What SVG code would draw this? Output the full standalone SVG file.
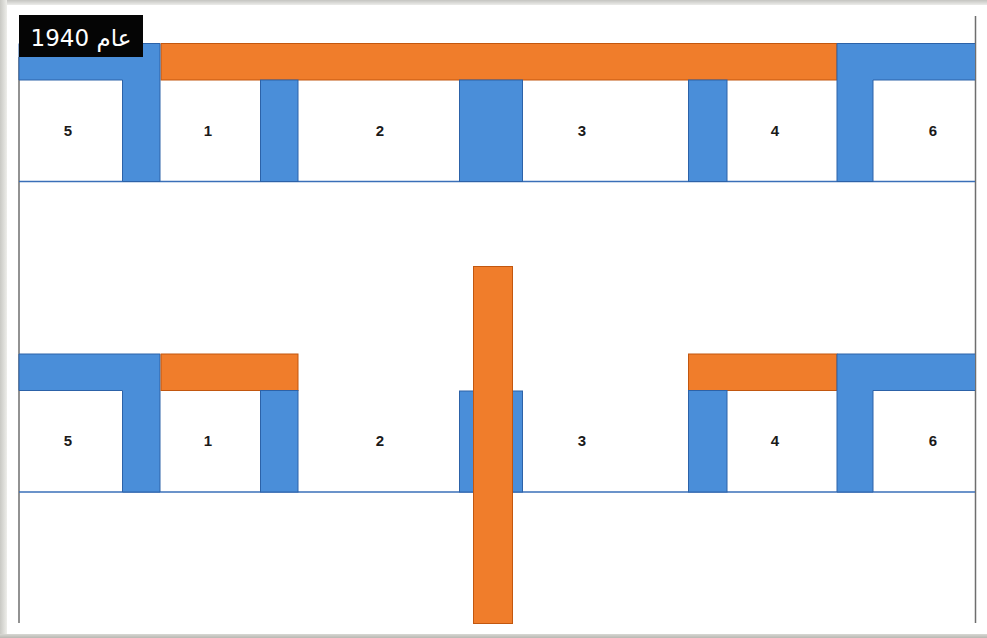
<svg xmlns="http://www.w3.org/2000/svg" width="987" height="638" viewBox="0 0 987 638">
<defs>
<linearGradient id="shL" x1="0" x2="1" y1="0" y2="0"><stop offset="0" stop-color="#c9c9c4"/><stop offset="1" stop-color="#eeeeea"/></linearGradient>
<linearGradient id="shT" x1="0" x2="0" y1="0" y2="1"><stop offset="0" stop-color="#c4c4c0"/><stop offset="1" stop-color="#ececea"/></linearGradient>
<linearGradient id="shB" x1="0" x2="0" y1="0" y2="1"><stop offset="0" stop-color="#d8d8d4"/><stop offset="1" stop-color="#b8b8b2"/></linearGradient>
</defs>
<style>
.b{fill:#4a8ed9;stroke:#2c62a8;stroke-width:1}
.o{fill:#f07d2b;stroke:#c2570f;stroke-width:1}
.base{stroke:#3a6fb8;stroke-width:1.5}
.edge{stroke:#6e6e6e;stroke-width:1.5}
.n{font-family:"Liberation Sans",Arial,sans-serif;font-size:15px;font-weight:bold;fill:#1a1a1a;text-anchor:middle}
</style>
<rect width="987" height="638" fill="#ffffff"/>
<rect x="0" y="0" width="987" height="5" fill="url(#shT)"/>
<rect x="0" y="0" width="7" height="638" fill="url(#shL)"/>
<rect x="0" y="634" width="987" height="4" fill="url(#shB)"/>
<line class="edge" x1="19" y1="57" x2="19" y2="623"/>
<line class="edge" x1="975.5" y1="16" x2="975.5" y2="623"/>

<g id="top">
<line class="base" x1="19" y1="181.5" x2="975" y2="181.5"/>
<rect class="o" x="161" y="43.5" width="676" height="36.5"/>
<path class="b" d="M19,43.5 H160 V181.5 H122.5 V80 H19 Z"/>
<rect class="b" x="260.5" y="80" width="37.5" height="101.5"/>
<rect class="b" x="459.5" y="80" width="63" height="101.5"/>
<rect class="b" x="688.5" y="80" width="38.5" height="101.5"/>
<path class="b" d="M975,43.5 H837 V181.5 H873 V80 H975"/>
<text class="n" x="68" y="136">5</text>
<text class="n" x="208" y="136">1</text>
<text class="n" x="380" y="136">2</text>
<text class="n" x="582" y="136">3</text>
<text class="n" x="775" y="136">4</text>
<text class="n" x="933" y="136">6</text>
</g>

<g id="label">
<rect x="19" y="15" width="124" height="42" fill="#050505"/>
<text x="81" y="46" direction="rtl" text-anchor="middle" font-family="DejaVu Sans,sans-serif" font-size="23" fill="#ffffff">عام 1940</text>
</g>

<g id="bottom">
<line class="base" x1="19" y1="492" x2="975" y2="492"/>
<path class="b" d="M19,354 H160 V492 H122.5 V390.5 H19 Z"/>
<rect class="o" x="161" y="354" width="137" height="36.5"/>
<rect class="b" x="260.5" y="390.5" width="37.5" height="101.5"/>
<rect class="b" x="459.5" y="391" width="63" height="101"/>
<rect class="o" x="473.5" y="266.5" width="39" height="357"/>
<rect class="o" x="688.5" y="354" width="148.5" height="36.5"/>
<rect class="b" x="688.5" y="390.5" width="38.5" height="101.5"/>
<path class="b" d="M975,354 H837 V492 H873 V390.5 H975"/>
<text class="n" x="68" y="446">5</text>
<text class="n" x="208" y="446">1</text>
<text class="n" x="380" y="446">2</text>
<text class="n" x="582" y="446">3</text>
<text class="n" x="775" y="446">4</text>
<text class="n" x="933" y="446">6</text>
</g>
</svg>
